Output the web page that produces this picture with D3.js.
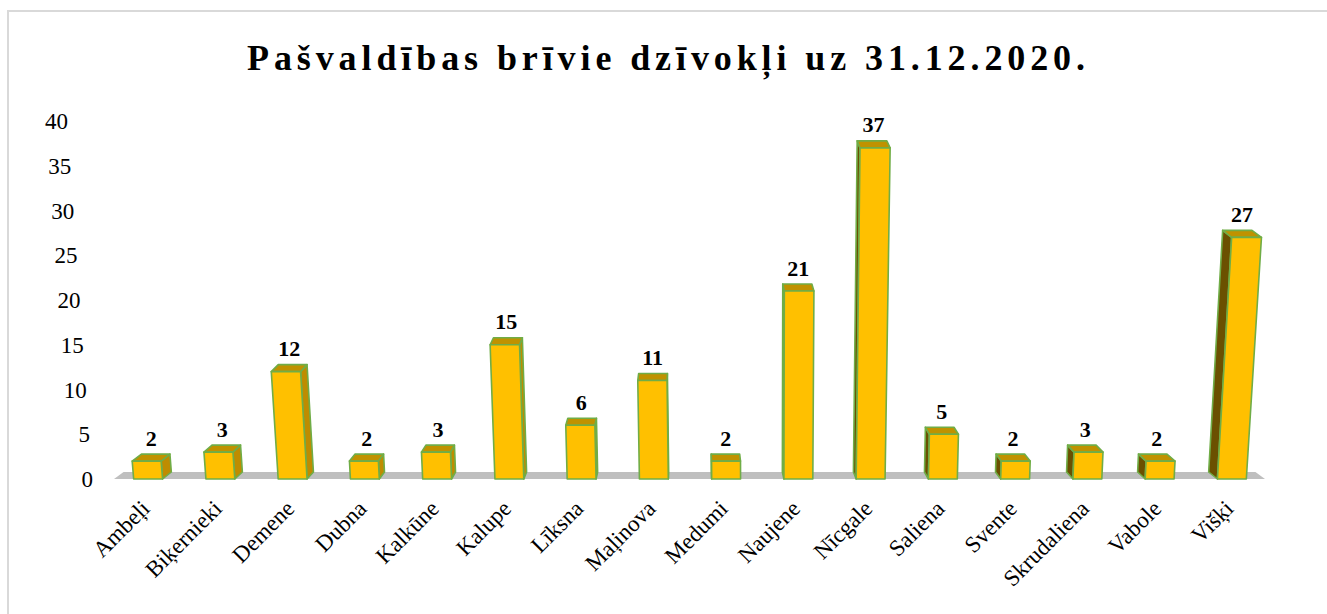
<!DOCTYPE html>
<html>
<head>
<meta charset="utf-8">
<script src="https://cdn.jsdelivr.net/npm/d3@7"></script>
<style>
  body { margin: 0; background: #fff; }
  svg { display: block; font-family: "Times New Roman", "Liberation Serif", serif; }
</style>
</head>
<body>
<svg id="chart" width="1327" height="614"></svg>
<script>
// DATA
var title = "Pašvaldības brīvie dzīvokļi uz 31.12.2020.";
var categories = ["Ambeļi", "Biķernieki", "Demene", "Dubna", "Kalkūne", "Kalupe", "Līksna", "Maļinova",
	"Medumi", "Naujene", "Nīcgale", "Saliena", "Svente", "Skrudaliena", "Vabole", "Višķi"];
var values = [2, 3, 12, 2, 3, 15, 6, 11, 2, 21, 37, 5, 2, 3, 2, 27];
var yTicks = [0, 5, 10, 15, 20, 25, 30, 35, 40];

var svg = d3.select("#chart");

// light frame, only top and left show in the picture
svg.append("path")
	.attr("d", "M8,640V11H1340")
	.attr("fill", "none")
	.attr("stroke", "#d9d9d9")
	.attr("stroke-width", 2);

// title, spread out to its width in the picture
svg.append("text")
	.attr("x", 666)
	.attr("y", 70)
	.attr("text-anchor", "middle")
	.attr("textLength", 838)
	.attr("lengthAdjust", "spacing")
	.style("font-size", "36px")
	.style("font-weight", "bold")
	.text(title);

// SCALES
var x = d3.scaleBand().domain(categories).range([112, 1268]).paddingInner(0.6).paddingOuter(0.3);
var y = d3.scaleLinear().domain([0, 40]).range([479, 121]);

// the fake 3d: bars fan out from a point below, depth recedes toward the middle
var FAN_CX = 768, FAN = 1.31e-4;
var DEP_CX = 690, DEP_K = 0.0166, DEP_Y = 7;

function proj(bx, v, dep) {
	var yv = y(v);
	var fx = bx + (bx - FAN_CX) * FAN * (y(0) - yv);
	return [fx + dep * (DEP_CX - fx) * DEP_K, yv - dep * DEP_Y];
}

function poly(pts) {
	return "M" + pts.map(function(p) { return p[0].toFixed(2) + "," + p[1].toFixed(2); }).join("L") + "Z";
}

// floor
var r = x.range();
svg.append("path")
	.attr("d", poly([proj(r[0] + 2, 0, 0), proj(r[1] - 3, 0, 0), proj(r[1] - 3, 0, 1), proj(r[0] + 2, 0, 1)]))
	.attr("fill", "#bfbfbf");

// y axis labels, slanting with the wall
var labelX = d3.scaleLinear().domain([0, 40]).range([93, 68]);
svg.append("g").classed("y axis", true)
	.selectAll("text")
	.data(yTicks)
	.join("text")
	.attr("x", function(d) { return labelX(d); })
	.attr("y", function(d) { return y(d); })
	.attr("dy", "0.35em")
	.attr("text-anchor", "end")
	.style("font-size", "23px")
	.text(function(d) { return d; });

// BARS
var data = categories.map(function(c, i) { return { cat: c, val: values[i] }; });
var bars = svg.append("g").classed("data", true)
	.selectAll("g")
	.data(data)
	.join("g");

var edge = { stroke: "#70ad47", "stroke-width": 1.6, "stroke-linejoin": "round" };

bars.each(function(d) {
	var g = d3.select(this),
		x0 = x(d.cat),
		x1 = x0 + x.bandwidth(),
		v = d.val;

	var fl = proj(x0, 0, 0), fr = proj(x1, 0, 0),
		tl = proj(x0, v, 0), tr = proj(x1, v, 0),
		bl = proj(x0, 0, 1), br = proj(x1, 0, 1),
		btl = proj(x0, v, 1), btr = proj(x1, v, 1);

	var side, sideColor;
	if (btr[0] > tr[0]) {
		side = [fr, tr, btr, br];
		sideColor = "#bf8c00";
	} else {
		side = [fl, tl, btl, bl];
		sideColor = "#6b5000";
	}

	[[side, sideColor], [[tl, tr, btr, btl], "#c09200"], [[fl, fr, tr, tl], "#ffc000"]].forEach(function(f) {
		var p = g.append("path").attr("d", poly(f[0])).attr("fill", f[1]);
		Object.keys(edge).forEach(function(k) { p.attr(k, edge[k]); });
	});

	// value above the bar
	var c = proj(x0 + x.bandwidth() / 2, v, 0.5);
	g.append("text")
		.attr("x", c[0])
		.attr("y", c[1] - 12)
		.attr("text-anchor", "middle")
		.style("font-size", "22px")
		.style("font-weight", "bold")
		.text(v);
});

// category labels, turned 45 degrees
svg.append("g").classed("x axis", true)
	.selectAll("text")
	.data(categories)
	.join("text")
	.attr("transform", function(d) {
		return "translate(" + (x(d) + x.bandwidth() / 2 + 3) + ",510)rotate(-45)";
	})
	.attr("text-anchor", "end")
	.style("font-size", "23px")
	.text(function(d) { return d; });
</script>
</body>
</html>
